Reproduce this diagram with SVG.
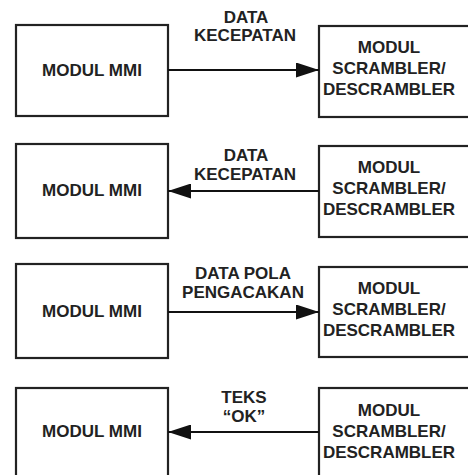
<svg xmlns="http://www.w3.org/2000/svg" width="468" height="475" viewBox="0 0 468 475">
<defs>
<marker id="ah" markerWidth="23" markerHeight="15" refX="23" refY="7.5" orient="auto" markerUnits="userSpaceOnUse">
<path d="M0,0 L23,7.5 L0,15 Z" fill="#111"/>
</marker>
<style>
rect{fill:#fff;stroke:#222;stroke-width:2.2}
text{font-family:"Liberation Sans",Arial,sans-serif;font-weight:bold;font-size:17px;fill:#222;text-anchor:middle;dominant-baseline:central}
.c{stroke:#111;stroke-width:2;fill:none;marker-end:url(#ah)}
</style>
</defs>
<rect x="0" y="0" width="468" height="475" style="fill:#fff;stroke:none"/>
<g id="mmi1"><rect x="16" y="25" width="152" height="91"/><text x="92" y="70">MODUL MMI</text></g>
<g id="scr1"><rect x="319" y="26" width="152" height="91"/><text x="389" y="47">MODUL</text><text x="389" y="68">SCRAMBLER/</text><text x="389" y="89">DESCRAMBLER</text></g>
<g id="mmi2"><rect x="16" y="144" width="152" height="94"/><text x="92" y="190">MODUL MMI</text></g>
<g id="scr2"><rect x="319" y="146" width="152" height="91"/><text x="389" y="167">MODUL</text><text x="389" y="188">SCRAMBLER/</text><text x="389" y="209">DESCRAMBLER</text></g>
<g id="mmi3"><rect x="16" y="264" width="152" height="94"/><text x="92" y="311">MODUL MMI</text></g>
<g id="scr3"><rect x="319" y="267" width="152" height="90"/><text x="389" y="288">MODUL</text><text x="389" y="309">SCRAMBLER/</text><text x="389" y="330">DESCRAMBLER</text></g>
<g id="mmi4"><rect x="16" y="388" width="152" height="92"/><text x="92" y="431">MODUL MMI</text></g>
<g id="scr4"><rect x="319" y="388" width="152" height="92"/><text x="389" y="410">MODUL</text><text x="389" y="431">SCRAMBLER/</text><text x="389" y="452">DESCRAMBLER</text></g>
<g id="connectors">
<line class="c" x1="168" y1="70" x2="319" y2="70"/>
<line class="c" x1="319" y1="191" x2="168" y2="191"/>
<line class="c" x1="168" y1="312" x2="319" y2="312"/>
<line class="c" x1="319" y1="432" x2="168" y2="432"/>
</g>
<g id="labels">
<text x="246" y="17">DATA</text><text x="245" y="35">KECEPATAN</text>
<text x="246" y="155">DATA</text><text x="245" y="174">KECEPATAN</text>
<text x="243" y="273">DATA POLA</text><text x="243" y="292">PENGACAKAN</text>
<text x="244" y="397">TEKS</text><text x="244" y="416">“OK”</text>
</g>
</svg>
